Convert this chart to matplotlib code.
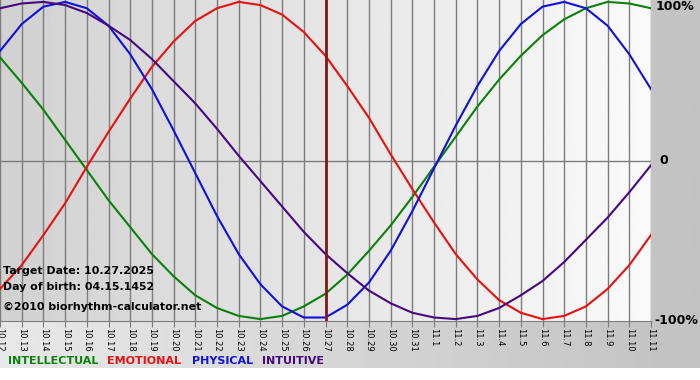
import numpy as np
import matplotlib
matplotlib.use('Agg')
import matplotlib.pyplot as plt

# 1 - Data (one value per day, 10.12 -> 11.11)

days = ['10.12', '10.13', '10.14', '10.15', '10.16', '10.17', '10.18', '10.19',
        '10.20', '10.21', '10.22', '10.23', '10.24', '10.25', '10.26', '10.27',
        '10.28', '10.29', '10.30', '10.31', '11.1', '11.2', '11.3', '11.4',
        '11.5', '11.6', '11.7', '11.8', '11.9', '11.10', '11.11']

intellectual = [0.65, 0.49, 0.32, 0.13, -0.06, -0.25, -0.42, -0.59, -0.73, -0.85,
                -0.93, -0.98, -1.00, -0.98, -0.92, -0.84, -0.72, -0.57, -0.41, -0.23,
                -0.04, 0.15, 0.34, 0.51, 0.66, 0.79, 0.89, 0.96, 1.00, 0.99, 0.96]

emotional = [-0.81, -0.66, -0.47, -0.27, -0.04, 0.18, 0.39, 0.59, 0.75, 0.88,
             0.96, 1.00, 0.98, 0.92, 0.81, 0.66, 0.47, 0.27, 0.04, -0.18,
             -0.39, -0.59, -0.75, -0.88, -0.96, -1.00, -0.98, -0.92, -0.81, -0.66, -0.47]

physical = [0.69, 0.86, 0.97, 1.00, 0.96, 0.85, 0.67, 0.45, 0.19, -0.08,
            -0.35, -0.59, -0.78, -0.92, -0.99, -0.99, -0.91, -0.77, -0.57, -0.32,
            -0.05, 0.22, 0.47, 0.69, 0.86, 0.97, 1.00, 0.96, 0.85, 0.67, 0.45]

intuitive = [0.96, 0.99, 1.00, 0.98, 0.93, 0.85, 0.76, 0.64, 0.50, 0.36,
             0.20, 0.03, -0.13, -0.29, -0.45, -0.59, -0.71, -0.82, -0.90, -0.96,
             -0.99, -1.00, -0.98, -0.93, -0.85, -0.76, -0.64, -0.50, -0.36, -0.20, -0.03]

target_day = '10.27'

series = [('INTELLECTUAL', intellectual, '#0b800b'),
          ('EMOTIONAL', emotional, '#e81010'),
          ('PHYSICAL', physical, '#1010dc'),
          ('INTUITIVE', intuitive, '#45087f')]

# 2 - Figure and backgrounds

W, H = 700, 380
fig = plt.figure(figsize=(7, 3.8), dpi=100)
fig.patch.set_facecolor('white')

bg = fig.add_axes([0, 12 / H, 1, 368 / H])
bg.imshow(np.linspace(0.91, 0.76, 256).reshape(1, -1), cmap='gray', vmin=0, vmax=1,
          aspect='auto', extent=[0, 1, 0, 1])
bg.set_axis_off()

ax = fig.add_axes([0, 1 - 321 / H, 651 / W, 321 / H])
x = np.arange(len(days))
ylim = 1.012
ax.imshow(np.linspace(0.82, 0.98, 256).reshape(1, -1), cmap='gray', vmin=0, vmax=1,
          aspect='auto', extent=[0, len(days) - 1, -ylim, ylim], zorder=0)

for xi in x:
    ax.axvline(xi, color='#7c7c7c', lw=1, zorder=1)
ax.axhline(0, color='#7c7c7c', lw=1, zorder=1)

for name, vals, col in series:
    ax.plot(x, vals, color=col, lw=1.5, zorder=3)

ax.axvline(days.index(target_day), color='#801818', lw=2, zorder=4)

ax.set_xlim(0, len(days) - 1)
ax.set_ylim(-ylim, ylim)
ax.set_xticks(x)
ax.set_xticklabels(days, rotation=270, fontsize=6)
ax.tick_params(axis='x', length=4, color='#7c7c7c', pad=1)
ax.set_yticks([])
for s in ['top', 'left', 'right']:
    ax.spines[s].set_visible(False)
ax.spines['bottom'].set_color('#7c7c7c')

# 3 - Texts

def px(xp, yp):
    return xp / W, 1 - yp / H

fig.text(*px(3, 271), 'Target Date: 10.27.2025', fontsize=7.9, fontweight='bold', va='center')
fig.text(*px(3, 287), 'Day of birth: 04.15.1452', fontsize=7.9, fontweight='bold', va='center')
fig.text(*px(3, 307), '\u00a92010 biorhythm-calculator.net', fontsize=7.9, fontweight='bold', va='center')

fig.text(*px(656, 6), '100%', fontsize=9, fontweight='bold', va='center')
fig.text(*px(659, 161), '0', fontsize=9, fontweight='bold', va='center')
fig.text(*px(654, 321), '-100%', fontsize=9, fontweight='bold', va='center')

legend_x = [8, 107, 192, 262]
for (name, vals, col), lx in zip(series, legend_x):
    fig.text(*px(lx, 361), name, fontsize=8, fontweight='bold', color=col, va='center')

plt.savefig('out.png', dpi=100)
